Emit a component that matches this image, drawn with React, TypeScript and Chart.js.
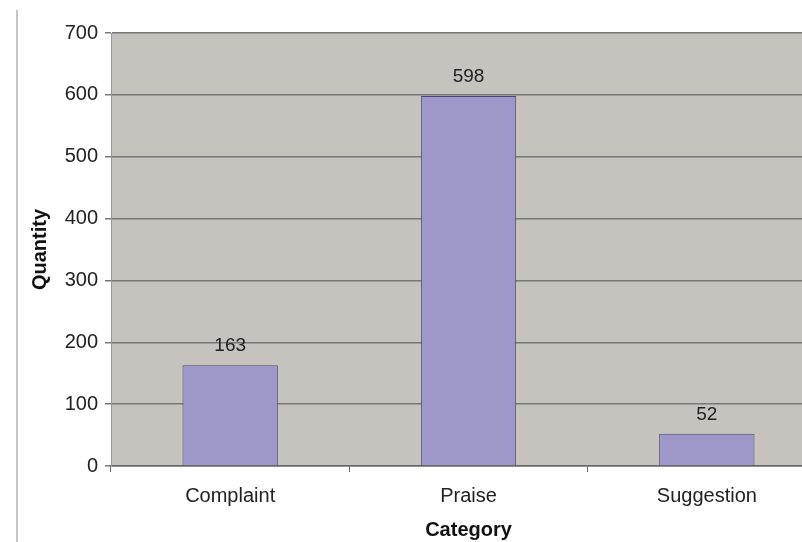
import React, { useEffect, useRef } from "react";
import { Chart, registerables } from "chart.js";

Chart.register(...registerables);

const categories: string[] = ["Complaint", "Praise", "Suggestion"];
const quantities: number[] = [163, 598, 52];
const yTicks: number[] = [0, 100, 200, 300, 400, 500, 600, 700];

const FONT = "'Liberation Sans', Arial, sans-serif";

const decorPlugin = {
  id: "decor",
  beforeDraw(chart: any) {
    const { ctx, chartArea } = chart;
    ctx.save();
    ctx.fillStyle = "#c6c3bf";
    ctx.fillRect(chartArea.left, chartArea.top, chartArea.right - chartArea.left, chartArea.bottom - chartArea.top);
    ctx.strokeStyle = "#c4c4c4";
    ctx.lineWidth = 2;
    ctx.beginPath();
    ctx.moveTo(17, 10);
    ctx.lineTo(17, chart.height);
    ctx.stroke();
    ctx.restore();
  },
  afterDatasetsDraw(chart: any) {
    const { ctx } = chart;
    const meta = chart.getDatasetMeta(0);
    const data = chart.data.datasets[0].data as number[];
    ctx.save();
    ctx.font = `19px ${FONT}`;
    ctx.fillStyle = "#222";
    ctx.textAlign = "center";
    ctx.textBaseline = "middle";
    meta.data.forEach((el: any, i: number) => {
      ctx.fillText(String(data[i]), el.x, el.y - 19);
    });
    ctx.restore();
  },
};

export default function App() {
  const ref = useRef<HTMLCanvasElement | null>(null);
  useEffect(() => {
    if (!ref.current) return;
    const chart = new Chart(ref.current, {
      type: "bar",
      data: {
        labels: categories,
        datasets: [
          {
            data: quantities,
            backgroundColor: "#9d98c9",
            borderColor: "#4a4870",
            borderWidth: 1,
            barPercentage: 0.4,
            categoryPercentage: 1,
          },
        ],
      },
      options: {
        responsive: false,
        animation: false,
        layout: { padding: { top: 33, left: 0, right: 0, bottom: 0 } },
        plugins: {
          legend: { display: false },
          tooltip: { enabled: false },
        },
        scales: {
          x: {
            grid: {
              offset: true,
              drawOnChartArea: false,
              drawTicks: true,
              tickLength: 6,
              color: "#666",
            },
            border: { display: true, color: "#666", width: 1.5 },
            ticks: {
              color: "#222",
              font: { family: FONT, size: 20 },
              padding: 12,
              maxRotation: 0,
            },
            title: {
              display: true,
              text: "Category",
              color: "#111",
              font: { family: FONT, size: 20, weight: "bold" },
              padding: { top: 0, bottom: 0 },
            },
            afterFit(scale: any) {
              scale.height = 76;
            },
          },
          y: {
            min: 0,
            max: 700,
            afterBuildTicks(scale: any) {
              scale.ticks = yTicks.map((v) => ({ value: v }));
            },
            grid: {
              color: "#777",
              lineWidth: 1.5,
              drawTicks: true,
              tickLength: 6,
            },
            border: { display: true, color: "#999", width: 1 },
            ticks: {
              color: "#222",
              font: { family: FONT, size: 20 },
              padding: 7,
            },
            title: {
              display: true,
              text: "Quantity",
              color: "#111",
              font: { family: FONT, size: 20, weight: "bold" },
              padding: { top: 28, bottom: 0 },
            },
            afterFit(scale: any) {
              scale.width = 111;
            },
          },
        },
      },
      plugins: [decorPlugin],
    });
    return () => chart.destroy();
  }, []);
  return (
    <div
      style={{
        position: "fixed",
        left: 0,
        top: 0,
        width: 802,
        height: 542,
        overflow: "hidden",
        background: "#fff",
      }}
    >
      <canvas ref={ref} width={826} height={542} style={{ display: "block" }} />
    </div>
  );
}
